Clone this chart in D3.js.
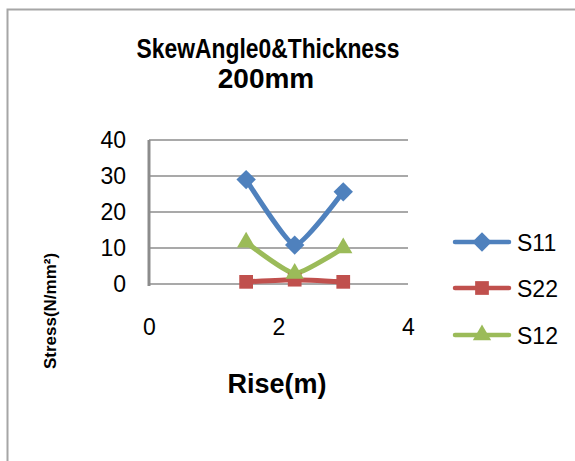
<!DOCTYPE html>
<html>
<head>
<meta charset="utf-8">
<script src="https://cdn.jsdelivr.net/npm/d3@7"></script>
<style>
  html, body { margin: 0; padding: 0; background: #fff; }
  svg { display: block; }
  text { font-family: "Liberation Sans", Arial, sans-serif; fill: #000; }
</style>
</head>
<body>
<svg id="chart" width="575" height="461"></svg>
<script>
// Rise (m) at which stresses were sampled
const rise = [1.5, 2.25, 3];
// Stress components (N/mm²)
const s11 = [29.0, 10.8, 25.6];
const s22 = [0.6, 1.2, 0.6];
const s12 = [11.6, 2.9, 10.0];
const seriesNames = ["S11", "S22", "S12"];
const seriesColors = ["#4F81BD", "#C0504D", "#9BBB59"];
const yTicks = [0, 10, 20, 30, 40];
const xTicks = [0, 2, 4];

const svg = d3.select("#chart");
const FONT = "'Liberation Sans', Arial, sans-serif";

// outer chart frame
svg.append("path")
  .attr("d", "M7.5,461 L7.5,9.5 L575,9.5")
  .attr("fill", "none").attr("stroke", "#a6a6a6").attr("stroke-width", 2);

const x = d3.scaleLinear().domain([0, 4]).range([149, 408]);
const y = d3.scaleLinear().domain([0, 40]).range([284, 140]);

// horizontal gridlines
svg.append("g").selectAll("line").data(yTicks).join("line")
  .attr("x1", x(0)).attr("x2", x(4))
  .attr("y1", d => y(d)).attr("y2", d => y(d))
  .attr("stroke", "#8c8c8c").attr("stroke-width", 1.5);

// vertical axis line
svg.append("line")
  .attr("x1", x(0)).attr("x2", x(0)).attr("y1", y(40)).attr("y2", y(0) + 2)
  .attr("stroke", "#8c8c8c").attr("stroke-width", 3);

// y tick labels
const yAxis = d3.axisLeft(y).tickValues(yTicks).tickFormat(d3.format("d")).tickSize(0).tickPadding(23);
svg.append("g").attr("transform", `translate(${x(0)},0)`).call(yAxis)
  .call(g => g.select(".domain").remove())
  .selectAll("text").style("font-size", "23px").style("font-family", FONT);

// x tick labels (placed below the plot)
const xAxis = d3.axisBottom(x).tickValues(xTicks).tickFormat(d3.format("d")).tickSize(0).tickPadding(0);
svg.append("g").attr("transform", "translate(0,319)").call(xAxis)
  .call(g => g.select(".domain").remove())
  .selectAll("text").style("font-size", "23px").style("font-family", FONT);

const allSeries = [s11, s22, s12];
const line = d3.line().x((d, i) => x(rise[i])).y(d => y(d)).curve(d3.curveCardinal.tension(0.5));
const symbols = [
  d3.symbol().type(d3.symbolDiamond2).size(240),
  d3.symbol().type(d3.symbolSquare2).size(240),
  d3.symbol().type(d3.symbolTriangle2).size(240)
];

allSeries.forEach((vals, k) => {
  svg.append("path").datum(vals)
    .attr("d", line)
    .attr("fill", "none").attr("stroke", seriesColors[k]).attr("stroke-width", 5)
    .attr("stroke-linecap", "round").attr("stroke-linejoin", "round");
});
allSeries.forEach((vals, k) => {
  svg.append("g").selectAll("path").data(vals).join("path")
    .attr("transform", (d, i) => `translate(${x(rise[i])},${y(d)})`)
    .attr("d", symbols[k]())
    .attr("fill", seriesColors[k]);
});

// legend
const legendY = [242, 288, 335];
seriesNames.forEach((name, k) => {
  const g = svg.append("g").attr("transform", `translate(0,${legendY[k]})`);
  g.append("line").attr("x1", 455).attr("x2", 509).attr("y1", 0).attr("y2", 0)
    .attr("stroke", seriesColors[k]).attr("stroke-width", 4.5).attr("stroke-linecap", "round");
  g.append("path").attr("transform", "translate(482,0)").attr("d", symbols[k]()).attr("fill", seriesColors[k]);
  g.append("text").attr("x", 517).attr("y", 8.5).style("font-size", "23px").text(name);
});

// titles
svg.append("text").attr("x", 268).attr("y", 58).attr("text-anchor", "middle")
  .attr("textLength", 263).attr("lengthAdjust", "spacingAndGlyphs")
  .style("font-size", "28px").style("font-weight", "bold")
  .text("SkewAngle0&Thickness");
svg.append("text").attr("x", 266).attr("y", 88).attr("text-anchor", "middle")
  .style("font-size", "28px").style("font-weight", "bold")
  .text("200mm");

svg.append("text").attr("x", 277).attr("y", 393).attr("text-anchor", "middle")
  .style("font-size", "27px").style("font-weight", "bold").text("Rise(m)");

svg.append("text").attr("transform", "translate(56,311) rotate(-90)").attr("text-anchor", "middle")
  .style("font-size", "17px").style("font-weight", "bold").text("Stress(N/mm²)");
</script>
</body>
</html>
